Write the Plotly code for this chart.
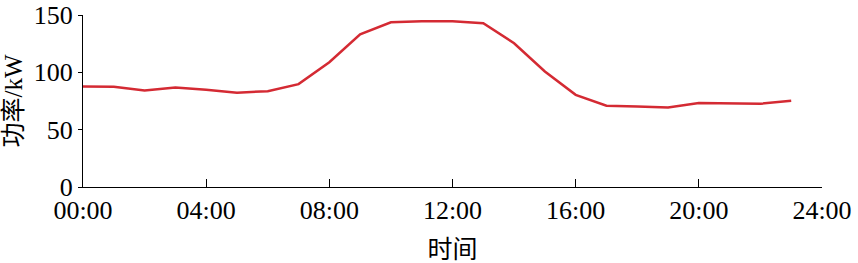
import plotly.graph_objects as go

hours = list(range(24))
power_kw = [87.7, 87.4, 84.2, 86.8, 84.8, 82.2, 83.6, 89.7, 108.8, 133.2, 143.6, 144.5,
            144.5, 142.8, 125.4, 100.7, 80.4, 70.9, 70.3, 69.4, 73.2, 73.0, 72.6, 75.2]
x_tick_vals = [0, 4, 8, 12, 16, 20, 24]
x_tick_text = ["00:00", "04:00", "08:00", "12:00", "16:00", "20:00", "24:00"]
y_tick_vals = [0, 50, 100, 150]

fig = go.Figure()
fig.add_trace(go.Scatter(x=hours, y=power_kw, mode="lines",
                         line=dict(color="#d42a33", width=2.5), showlegend=False))

serif = "'Liberation Serif', 'Times New Roman', 'DejaVu Serif', serif"
cjk = "'Liberation Serif', 'Noto Sans CJK SC', serif"
fig.update_layout(
    width=858, height=263,
    margin=dict(l=83, r=36, t=15, b=75.5),
    paper_bgcolor="white", plot_bgcolor="white",
    font=dict(family=serif, size=26, color="black"),
)
fig.update_xaxes(range=[0, 24], tickvals=x_tick_vals, ticktext=x_tick_text,
                 automargin=False,
                 showgrid=False, zeroline=False, showline=True, linecolor="black", linewidth=1,
                 ticks="inside", ticklen=8, tickcolor="black", tickwidth=1,
                 tickfont=dict(family=serif, size=26),
                 title=dict(text="时间", font=dict(family=cjk, size=25), standoff=18))
fig.update_yaxes(range=[0, 150], tickvals=y_tick_vals,
                 automargin=False,
                 showgrid=False, zeroline=False, showline=True, linecolor="black", linewidth=1,
                 ticks="outside", ticklen=4, tickcolor="black", tickwidth=1,
                 tickfont=dict(family=serif, size=26),
                 title=dict(text="功率/kW", font=dict(family=cjk, size=25), standoff=4))
fig.write_html("out.html")
